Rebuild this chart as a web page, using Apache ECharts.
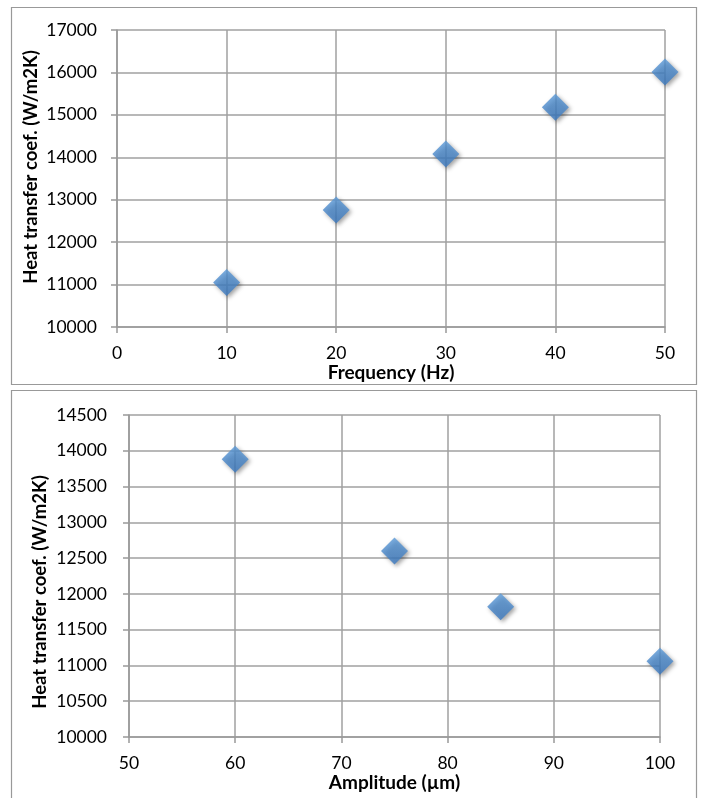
<!DOCTYPE html>
<html>
<head>
<meta charset="utf-8">
<script src="https://cdn.jsdelivr.net/npm/echarts@6/dist/echarts.min.js"></script>
<style>
html,body{margin:0;padding:0;background:#fff;}
#c{width:702px;height:798px;}
</style>
</head>
<body>
<div id="c"></div>
<script>
var freqX = [10, 20, 30, 40, 50];
var freqH = [11050, 12760, 14080, 15180, 16010];
var ampX = [60, 75, 85, 100];
var ampH = [13880, 12600, 11820, 11060];
var yTitle = 'Heat transfer coef. (W/m2K)';
var xTitles = ['Frequency (Hz)', 'Amplitude (µm)'];

var FONT = 'Lato';
var chart = echarts.init(document.getElementById('c'));
var markerColor = new echarts.graphic.LinearGradient(0, 0, 0, 1, [
  {offset: 0, color: '#5b9ad8'},
  {offset: 1, color: '#3b79c0'}
]);
var itemStyle = {
  color: markerColor,
  shadowBlur: 4,
  shadowColor: 'rgba(0,0,0,0.45)',
  shadowOffsetX: 2,
  shadowOffsetY: 2
};
function plain(v) { return String(v); }
function xAxis(idx, min, max, interval, name, gap) {
  return {
    type: 'value', gridIndex: idx, min: min, max: max, interval: interval,
    name: name, nameLocation: 'middle', nameGap: gap,
    nameTextStyle: {fontFamily: FONT, fontWeight: 'bold', fontSize: 19, color: '#000'},
    axisLine: {show: true, onZero: false, lineStyle: {color: '#999', width: 1.5}},
    axisTick: {show: true, inside: false, length: 6, lineStyle: {color: '#999', width: 1.5}},
    axisLabel: {fontFamily: FONT, fontSize: 17.5, color: '#000', margin: 17, formatter: plain},
    splitLine: {show: true, lineStyle: {color: '#a0a0a0', width: 1.5}}
  };
}
function yAxis(idx, min, max, interval, margin) {
  return {
    type: 'value', gridIndex: idx, min: min, max: max, interval: interval,
    axisLine: {show: true, lineStyle: {color: '#999', width: 1.5}},
    axisTick: {show: true, inside: false, length: 6, lineStyle: {color: '#999', width: 1.5}},
    axisLabel: {fontFamily: FONT, fontSize: 17.5, color: '#000', margin: margin, formatter: plain},
    splitLine: {show: true, lineStyle: {color: '#a0a0a0', width: 1.5}}
  };
}
function yTitleText(x, y) {
  return {
    type: 'text', x: x, y: y, rotation: Math.PI / 2,
    style: {text: yTitle, fontFamily: FONT, fontWeight: 'bold', fontSize: 18.5, fill: '#000',
            align: 'center', verticalAlign: 'middle'}
  };
}
chart.setOption({
  animation: false,
  graphic: [
    {type: 'rect', shape: {x: 11.5, y: 7.5, width: 685, height: 377}, style: {fill: 'none', stroke: '#999', lineWidth: 1.2}, z: -1},
    {type: 'rect', shape: {x: 11.5, y: 390.5, width: 685, height: 420}, style: {fill: 'none', stroke: '#999', lineWidth: 1.2}, z: -1},
    yTitleText(31, 167),
    yTitleText(40, 592)
  ],
  grid: [
    {left: 117, right: 37, top: 30, height: 297},
    {left: 129, right: 42, top: 415, height: 322}
  ],
  xAxis: [
    xAxis(0, 0, 50, 10, xTitles[0], 35),
    xAxis(1, 50, 100, 10, xTitles[1], 36)
  ],
  yAxis: [
    yAxis(0, 10000, 17000, 1000, 20),
    yAxis(1, 10000, 14500, 500, 22)
  ],
  series: [
    {type: 'scatter', xAxisIndex: 0, yAxisIndex: 0, symbol: 'diamond', symbolSize: [27, 27],
     itemStyle: itemStyle, data: freqX.map(function (x, i) { return [x, freqH[i]]; })},
    {type: 'scatter', xAxisIndex: 1, yAxisIndex: 1, symbol: 'diamond', symbolSize: [27, 27],
     itemStyle: itemStyle, data: ampX.map(function (x, i) { return [x, ampH[i]]; })}
  ]
});
</script>
</body>
</html>
